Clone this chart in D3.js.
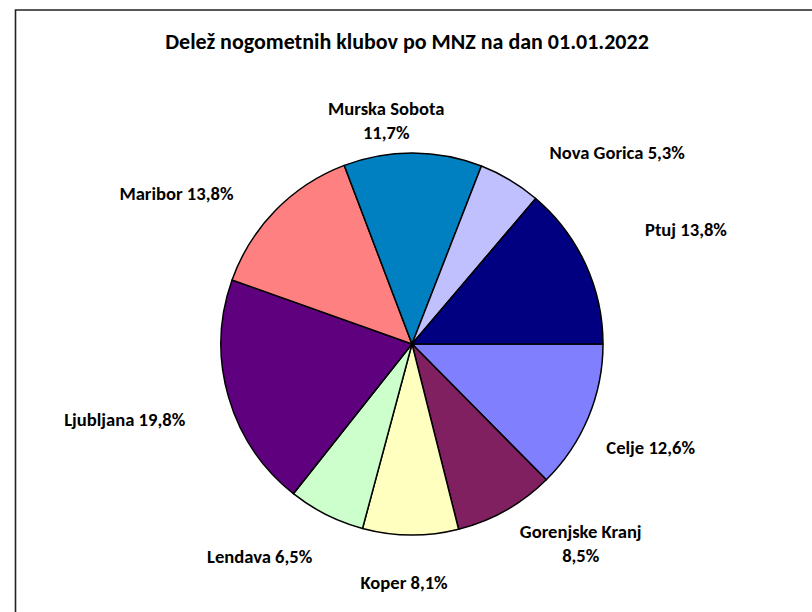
<!DOCTYPE html>
<html>
<head>
<meta charset="utf-8">
<script src="https://cdnjs.cloudflare.com/ajax/libs/d3/7.8.5/d3.min.js"></script>
<style>
  body { margin: 0; background: #fff; }
  svg { display: block; }
  .lbl { font-family: Carlito, Calibri, "Liberation Sans", sans-serif; font-weight: bold; fill: #000; }
</style>
</head>
<body>
<svg id="chart" width="812" height="612"></svg>
<script>
// dados do grafico
var klubi = ["Celje", "Gorenjske Kranj", "Koper", "Lendava", "Ljubljana", "Maribor", "Murska Sobota", "Nova Gorica", "Ptuj"];
var delezi = [12.6, 8.5, 8.1, 6.5, 19.8, 13.8, 11.7, 5.3, 13.8];
var barve = ["#8080ff", "#802060", "#ffffc0", "#ccffcc", "#5f007f", "#ff8080", "#0080c0", "#c0c0ff", "#000080"];
var naslov = "Delež nogometnih klubov po MNZ na dan 01.01.2022";

// rotulos em duas linhas e ajuste manual (como no grafico original)
var duasLinhas = ["Murska Sobota", "Gorenjske Kranj"];
var ajusteRotulo = {
  "Celje": [8, 7], "Gorenjske Kranj": [46, -18], "Koper": [-6, -12],
  "Lendava": [-40, -11], "Ljubljana": [-47, 7], "Maribor": [-57, 24],
  "Murska Sobota": [-27, 26], "Nova Gorica": [77, 23], "Ptuj": [47, -10]
};

var svg = d3.select("#chart");
var cx = 412, cy = 344, raio = 191;
var tamFonte = 18.6;

// moldura (so topo e lado esquerdo aparecem)
svg.append("path")
  .attr("d", "M15.5,612 L15.5,10 L812,10")
  .attr("fill", "none")
  .attr("stroke", "#222")
  .attr("stroke-width", 1.6);

// titulo
svg.append("text")
  .attr("class", "lbl")
  .attr("x", 407)
  .attr("y", 41)
  .attr("dy", "0.35em")
  .attr("text-anchor", "middle")
  .style("font-size", "22px")
  .text(naslov);

var pie = d3.pie()
  .sort(null)
  .value(function(d) { return d; })
  .startAngle(Math.PI / 2)
  .endAngle(Math.PI / 2 + 2 * Math.PI);

var arcos = pie(delezi);
var arco = d3.arc().innerRadius(0).outerRadius(raio);
var arcoRotulo = d3.arc().innerRadius(250).outerRadius(250);

var g = svg.append("g").attr("transform", "translate(" + cx + "," + cy + ")");

g.selectAll("path.fatia")
  .data(arcos)
  .enter().append("path")
  .attr("class", "fatia")
  .attr("d", arco)
  .attr("fill", function(d, i) { return barve[i]; })
  .attr("stroke", "#000")
  .attr("stroke-width", 1.5)
  .attr("stroke-linejoin", "round");

function fmt(v) {
  return v.toFixed(1).replace(".", ",") + "%";
}

arcos.forEach(function(d, i) {
  var nome = klubi[i];
  var c = arcoRotulo.centroid(d);
  var aj = ajusteRotulo[nome] || [0, 0];
  var x = c[0] + aj[0], y = c[1] + aj[1];
  var t = g.append("text")
    .attr("class", "lbl")
    .attr("text-anchor", "middle")
    .style("font-size", tamFonte + "px");
  if (duasLinhas.indexOf(nome) >= 0) {
    t.append("tspan").attr("x", x).attr("y", y - 12).attr("dy", "0.35em").text(nome);
    t.append("tspan").attr("x", x).attr("y", y + 12).attr("dy", "0.35em").text(fmt(delezi[i]));
  } else {
    t.attr("x", x).attr("y", y).attr("dy", "0.35em").text(nome + " " + fmt(delezi[i]));
  }
});
</script>
</body>
</html>
